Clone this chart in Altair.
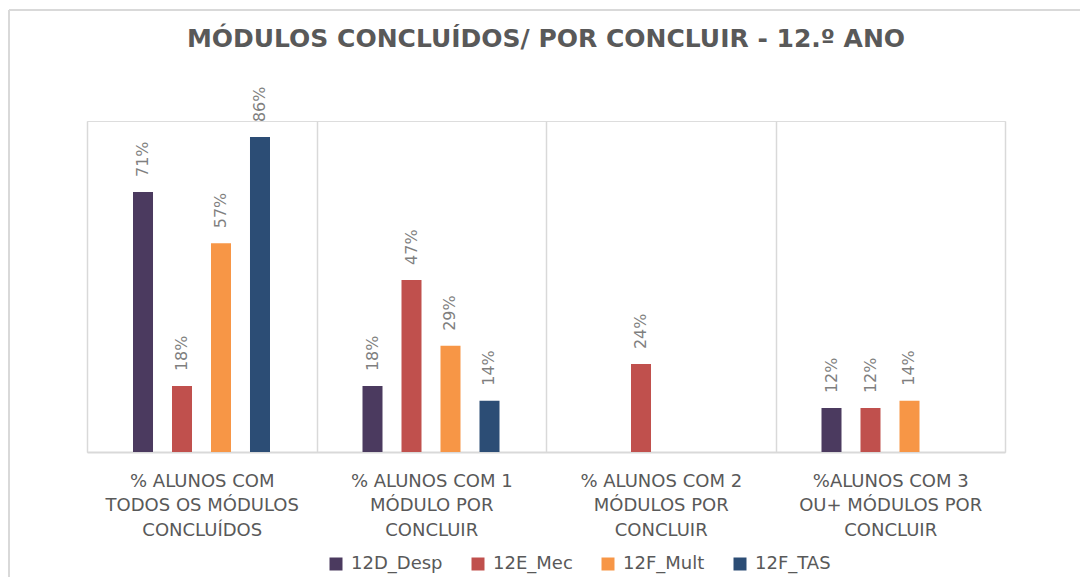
import altair as alt
import pandas as pd

# ---- data ----
categories = [
    "% ALUNOS COM\nTODOS OS MÓDULOS\nCONCLUÍDOS",
    "% ALUNOS COM 1\nMÓDULO POR\nCONCLUIR",
    "% ALUNOS COM 2\nMÓDULOS POR\nCONCLUIR",
    "%ALUNOS COM 3\nOU+ MÓDULOS POR\nCONCLUIR",
]
series = ["12D_Desp", "12E_Mec", "12F_Mult", "12F_TAS"]
values_12D_Desp = [71, 18, None, 12]
values_12E_Mec = [18, 47, 24, 12]
values_12F_Mult = [57, 29, None, 14]
values_12F_TAS = [86, 14, None, None]
colors = ["#4b3a5f", "#c0504d", "#f79646", "#2c4d75"]

title_text = "MÓDULOS CONCLUÍDOS/ POR CONCLUIR - 12.º ANO"

rows = []
for s, vals in zip(series, [values_12D_Desp, values_12E_Mec, values_12F_Mult, values_12F_TAS]):
    for c, v in zip(categories, vals):
        if v is not None:
            rows.append({"category": c, "series": s, "value": v, "label": f"{v}%"})
df = pd.DataFrame(rows)

FONT = "DejaVu Sans"
GRAY = "#595959"
LINE = "#d9d9d9"

base = alt.Chart(df).encode(
    x=alt.X(
        "category:N",
        sort=categories,
        scale=alt.Scale(domain=categories, paddingInner=0, paddingOuter=0),
        axis=alt.Axis(
            title=None,
            labelExpr="split(datum.label, '\\n')",
            labelAngle=0,
            tickBand="extent",
            grid=True,
            gridColor=LINE,
            gridWidth=1.5,
            ticks=False,
            domainColor=LINE,
            domainWidth=2,
            labelFont=FONT,
            labelFontSize=18,
            labelColor=GRAY,
            labelPadding=20,
            labelLineHeight=24.5,
            labelLimit=400,
            labelBaseline="top",
        ),
    ),
    xOffset=alt.XOffset(
        "series:N",
        sort=series,
        scale=alt.Scale(domain=series, range=[46, 183], paddingInner=0.487, paddingOuter=0),
    ),
)

bars = base.mark_bar().encode(
    y=alt.Y("value:Q", scale=alt.Scale(domain=[0, 90.4], nice=False, zero=True), axis=None),
    color=alt.Color(
        "series:N",
        sort=series,
        scale=alt.Scale(domain=series, range=colors),
        legend=alt.Legend(
            title=None,
            orient="none",
            legendX=240,
            legendY=434,
            direction="horizontal",
            symbolType="square",
            symbolSize=169,
            symbolStrokeWidth=0,
            labelFont=FONT,
            labelFontSize=18,
            labelColor=GRAY,
            labelOffset=6,
            columnPadding=26,
        ),
    ),
)

labels = base.mark_text(
    angle=270, align="left", baseline="middle", dx=15,
    fontSize=16, font=FONT, color="#7f7f7f",
).encode(y=alt.Y("value:Q"), text="label:N")

one = pd.DataFrame({"k": [0]})
border_left = alt.Chart(one).mark_rule(color=LINE, strokeWidth=2).encode(
    x=alt.value(-78), y=alt.value(-111), y2=alt.value(470)
)
border_top = alt.Chart(one).mark_rule(color=LINE, strokeWidth=2).encode(
    x=alt.value(-78), x2=alt.value(1000), y=alt.value(-111)
)

chart = alt.layer(border_left, border_top, bars, labels).properties(
    width=918,
    height=331,
    padding={"left": 79, "top": 113, "right": 75, "bottom": 125},
    autosize=alt.AutoSizeParams(type="none"),
    title=alt.Title(
        title_text, font=FONT, fontSize=25, fontWeight="bold", color=GRAY,
        anchor="middle", offset=0, dy=63, baseline="alphabetic",
    ),
).configure_view(stroke=None).configure(background="white")

chart.save("out.html", embed_options={"renderer": "svg", "actions": False})
